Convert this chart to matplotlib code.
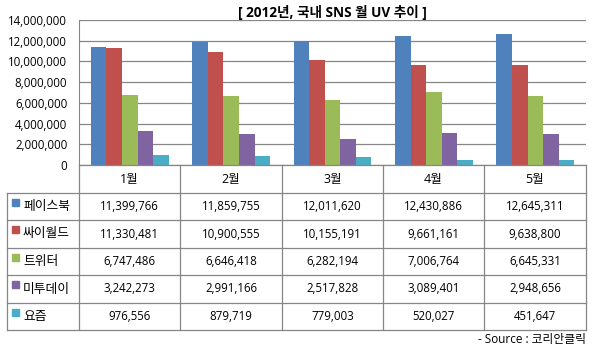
import numpy as np
import matplotlib
matplotlib.use('Agg')
import matplotlib.pyplot as plt
from matplotlib.ticker import FuncFormatter

plt.rcParams['font.family'] = ['Open Sans', 'Noto Sans CJK KR', 'DejaVu Sans']

# data
months = ['1월', '2월', '3월', '4월', '5월']
series = ['페이스북', '싸이월드', '트위터', '미투데이', '요즘']
facebook = [11399766, 11859755, 12011620, 12430886, 12645311]
cyworld = [11330481, 10900555, 10155191, 9661161, 9638800]
twitter = [6747486, 6646418, 6282194, 7006764, 6645331]
me2day = [3242273, 2991166, 2517828, 3089401, 2948656]
yozm = [976556, 879719, 779003, 520027, 451647]
values = [facebook, cyworld, twitter, me2day, yozm]
colors = ['#4F81BD', '#C0504D', '#9BBB59', '#8064A2', '#4BACC6']

W, H = 592, 351
fig = plt.figure(figsize=(W / 100, H / 100), dpi=100)

# pixel layout
px_left, px_right = 79, 586
px_top, px_zero = 20, 165
grid_col = '#868686'

ax = fig.add_axes([px_left / W, 1 - px_zero / H, (px_right - px_left) / W, (px_zero - px_top) / H])
x = np.arange(len(months))
bw = 1 / 6.5
for i, (vals, c) in enumerate(zip(values, colors)):
    ax.bar(x + (i - 2) * bw, vals, width=bw, color=c, zorder=3)
ax.set_xlim(-0.5, len(months) - 0.5)
ax.set_ylim(0, 14000000)
ax.set_yticks(np.arange(0, 14000001, 2000000))
ax.yaxis.set_major_formatter(FuncFormatter(lambda v, p: f'{int(v):,}'))
ax.set_xticks([])
ax.tick_params(axis='y', length=0, pad=8.5, labelsize=8.3)
ax.grid(axis='y', color=grid_col, lw=0.9, zorder=0)
for s in ['top', 'right', 'bottom']:
    ax.spines[s].set_visible(False)
ax.spines['left'].set_color(grid_col)
ax.set_title('[ 2012년, 국내 SNS 월 UV 추이 ]', fontsize=9.8, fontweight='bold', pad=1)

# data table
t = fig.add_axes([0, 0, 1, 1], zorder=5)
t.set_xlim(0, W)
t.set_ylim(H, 0)
t.axis('off')
t.patch.set_alpha(0)

col_x = [79, 180, 282, 383, 484, 586]
row_y = [165, 193, 220, 248, 275, 303, 330]
lab_x0 = 7
lw = 0.9

t.plot([col_x[0], col_x[-1]], [row_y[0]] * 2, color=grid_col, lw=lw)
for y in row_y[1:]:
    t.plot([lab_x0, col_x[-1]], [y, y], color=grid_col, lw=lw)
t.plot([lab_x0, lab_x0], [row_y[1], row_y[-1]], color=grid_col, lw=lw)
t.plot([col_x[0], col_x[0]], [row_y[0], row_y[-1]], color=grid_col, lw=lw)
for cx in col_x[1:]:
    t.plot([cx, cx], [row_y[0], row_y[-1]], color=grid_col, lw=lw)

for j, m in enumerate(months):
    cx = (col_x[j] + col_x[j + 1]) / 2
    t.text(cx, (row_y[0] + row_y[1]) / 2, m, ha='center', va='center', fontsize=9)

for i, name in enumerate(series):
    cy = (row_y[i + 1] + row_y[i + 2]) / 2
    t.add_patch(plt.Rectangle((12, row_y[i + 1] + 6), 7, 7, color=colors[i]))
    t.text(23, cy, name, ha='left', va='center', fontsize=9.2)
    for j in range(len(months)):
        cx = (col_x[j] + col_x[j + 1]) / 2
        t.text(cx, cy, f'{values[i][j]:,}', ha='center', va='center', fontsize=8.3)

t.text(col_x[-1], 339, '- Source : 코리안클릭', ha='right', va='center', fontsize=8.5)

fig.savefig('out.png', dpi=100, facecolor='white')
